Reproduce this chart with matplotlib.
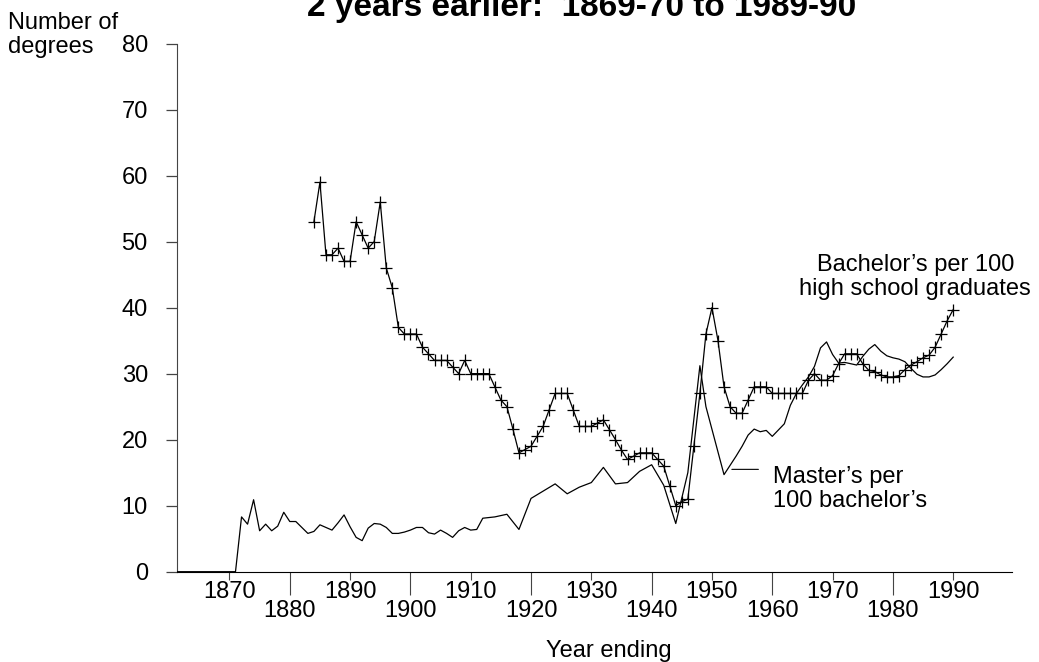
import matplotlib.pyplot as plt
import numpy as np

plt.rcParams['font.family'] = ['Liberation Sans', 'DejaVu Sans']
plt.rcParams['font.size'] = 17

# bachelor's degrees per 100 high school graduates 2 years earlier
bach_years = list(range(1884, 1991))
bach_vals = [53, 59, 48, 48, 49, 47, 47, 53, 51, 49, 50, 56, 46, 43, 37, 36,
             36, 36, 34, 33, 32, 32, 32, 31, 30, 32, 30, 30, 30, 30, 28, 26,
             25, 21.6, 18, 18.5, 19, 20.5, 22, 24.5, 27, 27, 27, 24.5, 22, 22,
             22, 22.5, 23, 21.5, 20, 18.4, 17, 17.5, 18, 18, 18, 17, 16, 13,
             10, 10.6, 11, 19, 27, 36, 40, 35, 28, 25, 24, 24, 26, 28, 28, 28,
             27, 27, 27, 27, 27, 27, 29, 30, 29, 29, 29.7, 31.5, 33, 33, 33,
             31.5, 30.5, 30.3, 29.8, 29.5, 29.5, 29.7, 30.6, 31.3, 31.8, 32.4,
             32.8, 34, 36, 38, 39.7]

# master's degrees per 100 bachelor's degrees
mast_years = list(range(1861, 1913)) + [
    1914, 1916, 1918, 1920, 1922, 1924, 1926, 1928, 1930, 1932, 1934, 1936,
    1938, 1940, 1942, 1944, 1946, 1948, 1949, 1952, 1954, 1955, 1956, 1957,
    1958, 1959, 1960, 1962] + list(range(1963, 1991))
mast_vals = [0] * 11 + [
    8.3, 7.2, 10.9, 6.2, 7.2, 6.2, 6.9, 9.0, 7.6, 7.6, 6.7, 5.8, 6.1, 7.1,
    6.7, 6.3, 7.4, 8.6, 6.8, 5.2, 4.7, 6.6, 7.3, 7.2, 6.7, 5.8, 5.8, 6.0, 6.3,
    6.7, 6.7, 5.9, 5.7, 6.3, 5.8, 5.2, 6.2, 6.7, 6.3, 6.4, 8.1,
    8.3, 8.7, 6.4, 11.1, 12.2, 13.3, 11.8, 12.8, 13.5, 15.8, 13.3, 13.5,
    15.2, 16.2, 13.1, 7.3, 15.0, 31.2, 25.0, 14.7, 17.5, 19.0, 20.7, 21.6,
    21.2, 21.4, 20.5, 22.4,
    25.2, 27.0, 28.3, 29.5, 31.1, 33.9, 34.8, 32.9, 31.6, 31.7, 31.5, 31.3,
    32.6, 33.7, 34.4, 33.4, 32.7, 32.4, 32.2, 31.8, 30.8, 29.9, 29.5, 29.5,
    29.8, 30.6, 31.5, 32.5]

odd_ticks = list(range(1870, 2000, 20))
even_ticks = list(range(1880, 1990, 20))
y_ticks = list(range(0, 90, 10))

W, H = 1039, 662
fig = plt.figure(figsize=(W / 100, H / 100), dpi=100)
ax = fig.add_axes([177 / W, 1 - 571.7 / H, (1012 - 177) / W, (571.7 - 43.5) / H])

ax.plot(mast_years, mast_vals, color='black', lw=0.9, zorder=3)
ax.plot(bach_years, bach_vals, color='black', lw=0.9, marker='+', ms=9,
        mew=0.9, zorder=4)

ax.set_xlim(1861.3, 1999.75)
ax.set_ylim(0, 80)
ax.spines['top'].set_visible(False)
ax.spines['right'].set_visible(False)
ax.spines['left'].set_color('#444')
ax.spines['bottom'].set_color('black')

ax.set_yticks(y_ticks, labels=[str(v) for v in y_ticks])
ax.set_xticks(odd_ticks, labels=[str(v) for v in odd_ticks])
ax.set_xticks(even_ticks, labels=[str(v) for v in even_ticks], minor=True)
ax.tick_params(axis='y', length=8, width=0.9, color='#444', pad=13)
ax.tick_params(axis='x', which='major', length=5.5, width=0.8, color='#444', pad=1.5)
ax.tick_params(axis='x', which='minor', length=16.5, width=0.8, color='#444', pad=4,
               labelsize=17)

# series labels (va='baseline' pins the last line)
ax.text(1983.7, 41.9, "Bachelor\u2019s per 100\nhigh school graduates",
        ha='center', va='baseline', linespacing=1.1)
ax.text(1960.1, 9.8, "Master\u2019s per\n100 bachelor\u2019s",
        ha='left', va='baseline', linespacing=1.1)
ax.annotate('', xy=(1953.3, 15.5), xytext=(1957.7, 15.5),
            arrowprops=dict(arrowstyle='-', lw=0.8, color='black',
                            shrinkA=0, shrinkB=0))

fig.text(582 / W, 1 - 16 / H, "2 years earlier:  1869-70 to 1989-90",
         ha='center', va='baseline', fontsize=24, fontweight='bold')
fig.text(8 / W, 1 - 52.7 / H, "Number of\ndegrees", ha='left', va='baseline',
         linespacing=1.1)
fig.text(608.7 / W, 1 - 656.7 / H, "Year ending", ha='center', va='baseline')

fig.savefig('out.png', dpi=100)
